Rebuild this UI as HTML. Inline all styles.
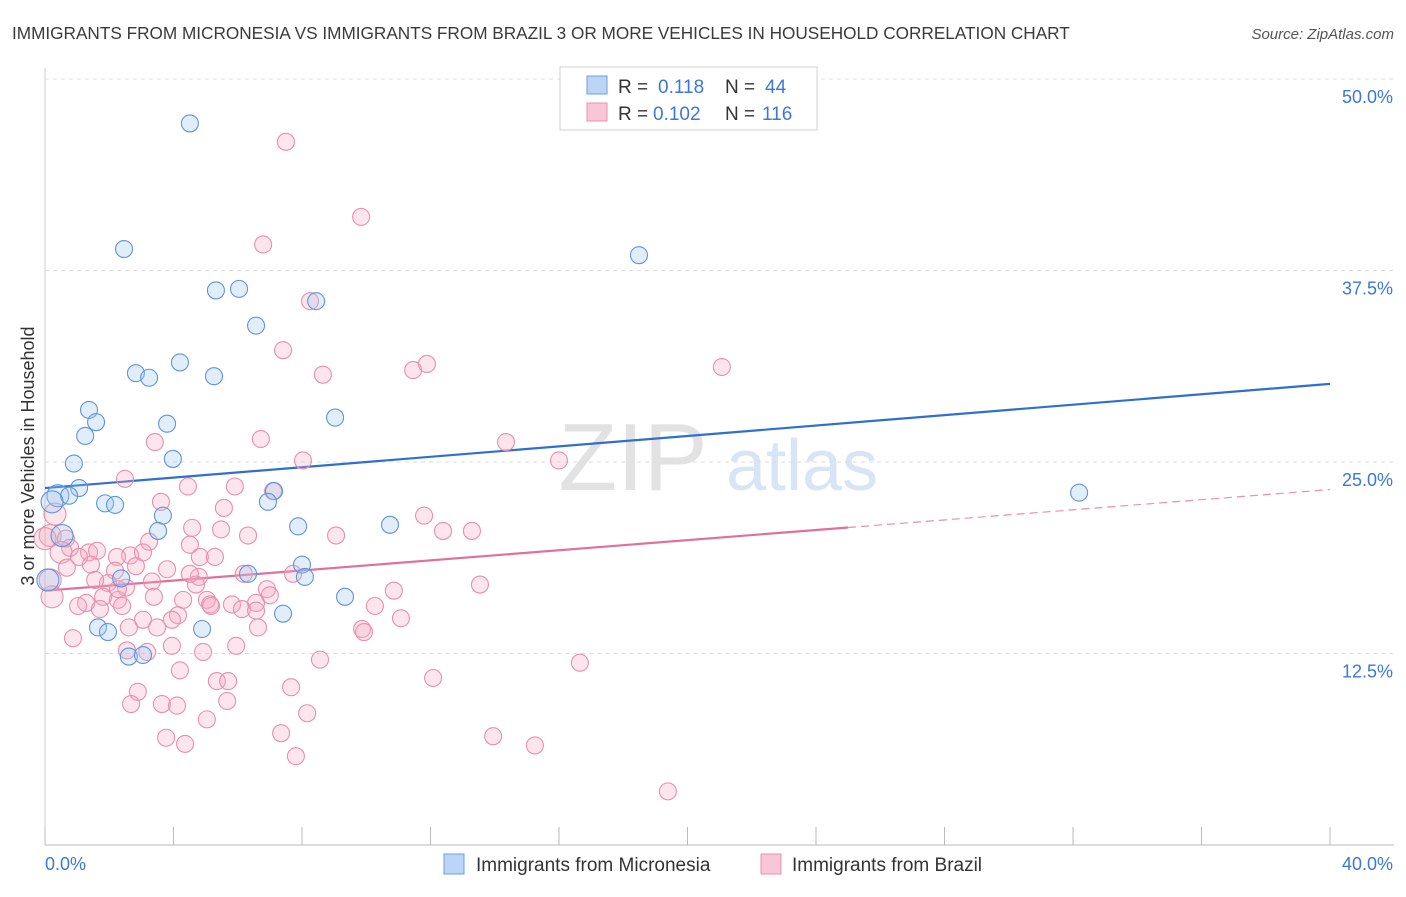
<!DOCTYPE html>
<html><head><meta charset="utf-8">
<style>
body{margin:0;background:#fff;font-family:"Liberation Sans",sans-serif;}
svg text{font-family:"Liberation Sans",sans-serif;}
</style></head>
<body>
<svg id="chart" width="1406" height="892" viewBox="0 0 1406 892" xmlns="http://www.w3.org/2000/svg">
<text x="12" y="39" font-size="17.2" fill="#3a3a3a">IMMIGRANTS FROM MICRONESIA VS IMMIGRANTS FROM BRAZIL 3 OR MORE VEHICLES IN HOUSEHOLD CORRELATION CHART</text>
<text x="1394" y="39" font-size="15" fill="#555" text-anchor="end" font-style="italic">Source: ZipAtlas.com</text>
<g>
<text x="633" y="490" font-size="96" fill="#e2e2e2" text-anchor="middle" font-family="Liberation Serif">ZIP</text>
<text x="802" y="490" font-size="72" fill="#d8e5f6" text-anchor="middle">atlas</text>
</g>
<g id="grid"></g>
<g id="axes"></g>
<g id="lines"></g>
<g id="points"></g>
<g>
<rect x="560" y="67" width="257" height="63" fill="#fff" stroke="#d0d0d0"/>
<rect x="587" y="76" width="20" height="18" fill="#bcd4f5" stroke="#6a9fe0"/>
<rect x="587" y="103" width="20" height="18" fill="#f8c6d6" stroke="#e890ac"/>
<text x="618" y="93" font-size="19" fill="#333">R =</text>
<text x="658" y="93" font-size="19" fill="#3b78d8">0.118</text>
<text x="725" y="93" font-size="19" fill="#333">N =</text>
<text x="765" y="93" font-size="19" fill="#3b78d8">44</text>
<text x="618" y="120" font-size="19" fill="#333">R =</text>
<text x="653" y="120" font-size="19" fill="#3b78d8">0.102</text>
<text x="725" y="120" font-size="19" fill="#333">N =</text>
<text x="762" y="120" font-size="19" fill="#3b78d8">116</text>
</g>
<g>
<rect x="444" y="854" width="20" height="20" fill="#bcd4f5" stroke="#6a9fe0"/>
<text x="476" y="871" font-size="19" fill="#333">Immigrants from Micronesia</text>
<rect x="761" y="854" width="20" height="20" fill="#f8c6d6" stroke="#e890ac"/>
<text x="792" y="871" font-size="19" fill="#333">Immigrants from Brazil</text>
</g>
<text transform="translate(34,456) rotate(-90)" font-size="18" fill="#333" text-anchor="middle">3 or more Vehicles in Household</text>
</svg>
<script>
const yTicks=[12.5,25,37.5,50];
const yTickLabels=["12.5%","25.0%","37.5%","50.0%"];
const xTickVals=[0,4,8,12,16,20,24,28,32,36,40];
const xEndLabels=["0.0%","40.0%"];
const microX=[4.51,2.46,18.49,5.32,6.04,8.44,6.57,2.83,3.24,4.20,5.26,1.37,1.59,3.80,1.25,9.03,0.90,3.98,1.06,0.40,0.75,7.13,1.87,2.18,6.94,3.67,3.52,7.88,10.74,0.53,8.00,8.09,6.32,2.37,9.34,0.09,7.41,1.65,1.96,4.89,2.61,3.05,32.19,0.22];
const microY=[47.1,38.9,38.5,36.2,36.3,35.5,33.9,30.8,30.5,31.5,30.6,28.4,27.6,27.5,26.7,27.9,24.9,25.2,23.3,22.8,22.8,23.1,22.3,22.2,22.4,21.5,20.5,20.8,20.9,20.2,18.3,17.5,17.7,17.4,16.2,17.3,15.1,14.2,13.9,14.1,12.3,12.4,23.0,22.4];
const brazX=[7.50,9.84,6.79,8.25,7.41,11.46,11.89,21.07,8.65,6.72,3.42,14.35,16.0,8.03,2.49,5.91,4.45,7.10,3.61,5.57,11.80,13.29,12.39,4.58,5.48,9.06,6.32,0.16,0.31,0.65,0.78,1.37,0.50,3.24,4.51,1.06,1.62,2.65,3.05,2.24,4.82,5.29,0.68,1.43,2.18,2.83,3.80,4.79,6.19,7.72,1.96,2.52,3.33,4.70,6.91,7.00,10.86,13.54,1.81,2.27,3.39,4.30,5.04,5.82,6.57,1.28,1.03,1.71,2.40,5.14,5.17,6.13,6.57,10.27,3.05,4.14,11.08,0.87,2.61,3.49,3.95,6.63,5.95,3.95,9.87,9.93,4.92,2.55,3.18,8.56,16.65,4.20,5.35,5.70,12.08,7.66,2.89,5.67,2.68,3.64,4.11,5.04,8.16,3.77,4.36,7.35,13.95,15.25,7.81,19.39,0.22,0.0,0.16,4.51,2.27,1.56];
const brazY=[45.9,41.0,39.2,35.5,32.3,31.0,31.4,31.2,30.7,26.5,26.3,26.3,25.1,25.1,23.9,23.4,23.4,23.1,22.4,22.0,21.5,20.5,20.5,20.7,20.6,20.2,20.2,20.2,21.6,20.0,19.4,19.1,19.1,19.8,19.6,18.8,19.2,18.9,19.1,18.8,18.8,18.8,18.1,18.3,17.9,18.2,18.0,17.5,17.7,17.7,17.1,16.8,17.2,17.0,16.7,16.3,16.6,17.0,16.2,16.0,16.2,16.0,16.0,15.7,15.8,15.8,15.6,15.4,15.6,15.7,15.6,15.4,15.3,15.6,14.7,15.0,14.8,13.5,14.2,14.2,14.7,14.2,13.0,13.0,14.1,13.9,12.6,12.7,12.6,12.1,11.9,11.4,10.7,10.7,10.9,10.3,10.0,9.4,9.2,9.2,9.1,8.2,8.6,7.0,6.6,7.3,7.1,6.5,5.8,3.5,16.2,20.0,17.3,17.7,16.7,17.3];
const microTrend=[23.3,30.1];
const brazTrend=[16.6,23.2];
const brazSolidEnd=25;

const NS="http://www.w3.org/2000/svg";
const X0=45,X1=1330,Y0=845,YTOP=79;
const xs=v=>X0+(v/40)*(X1-X0);
const ys=v=>Y0-(v/50)*(Y0-YTOP);
function mk(tag,attrs,parent){const e=document.createElementNS(NS,tag);for(const k in attrs)e.setAttribute(k,attrs[k]);parent.appendChild(e);return e;}
const grid=document.getElementById('grid'),axes=document.getElementById('axes'),lines=document.getElementById('lines'),pts=document.getElementById('points');
yTicks.forEach((t,i)=>{
 const l=mk('line',{x1:X0,x2:1394,y1:ys(t),y2:ys(t),stroke:'#dddddd','stroke-dasharray':'4,4'},grid);
 
 
 const tx=mk('text',{x:1393,y:ys(t)+24,'font-size':18,fill:'#3b78d8','text-anchor':'end'},axes);
 tx.textContent=yTickLabels[i];
 
 
});
const xa=mk('line',{x1:X0,x2:1394,y1:Y0,y2:Y0,stroke:'#bbb'},axes);


const ya=mk('line',{x1:X0,x2:X0,y1:68,y2:Y0,stroke:'#ccc'},axes);


xTickVals.forEach(t=>{
 const l=mk('line',{x1:xs(t),x2:xs(t),y1:Y0,y2:Y0-18,stroke:'#bbb'},axes);
 
 
});
const xl0=mk('text',{x:45,y:870,'font-size':18,fill:'#3b78d8'},axes);xl0.textContent=xEndLabels[0];


const xl1=mk('text',{x:1393,y:870,'font-size':18,fill:'#3b78d8','text-anchor':'end'},axes);xl1.textContent=xEndLabels[1];



function dot(x,y,fill,stroke,name){
 const r=(x<0.6)?11:8.5;
 const c=mk('circle',{cx:xs(x),cy:ys(y),r:r,fill:fill,'fill-opacity':0.3,stroke:stroke,'stroke-width':1.1},pts);
 
 
}
brazX.forEach((x,i)=>dot(x,brazY[i],'#f4a9c0','#e890ac','brazil-point'));
microX.forEach((x,i)=>dot(x,microY[i],'#9fc2ef','#5f95dc','micronesia-point'));

const bl=mk('line',{x1:xs(0),y1:ys(microTrend[0]),x2:xs(40),y2:ys(microTrend[1]),stroke:'#2f6fd0','stroke-width':2.2},lines);


const pm=v=>brazTrend[0]+(brazTrend[1]-brazTrend[0])*v/40;
const pl=mk('line',{x1:xs(0),y1:ys(pm(0)),x2:xs(brazSolidEnd),y2:ys(pm(brazSolidEnd)),stroke:'#e0709a','stroke-width':2.2},lines);


const pd=mk('line',{x1:xs(brazSolidEnd),y1:ys(pm(brazSolidEnd)),x2:xs(40),y2:ys(pm(40)),stroke:'#e890ac','stroke-width':1.2,'stroke-dasharray':'8,5'},lines);


</script>
</body></html>
